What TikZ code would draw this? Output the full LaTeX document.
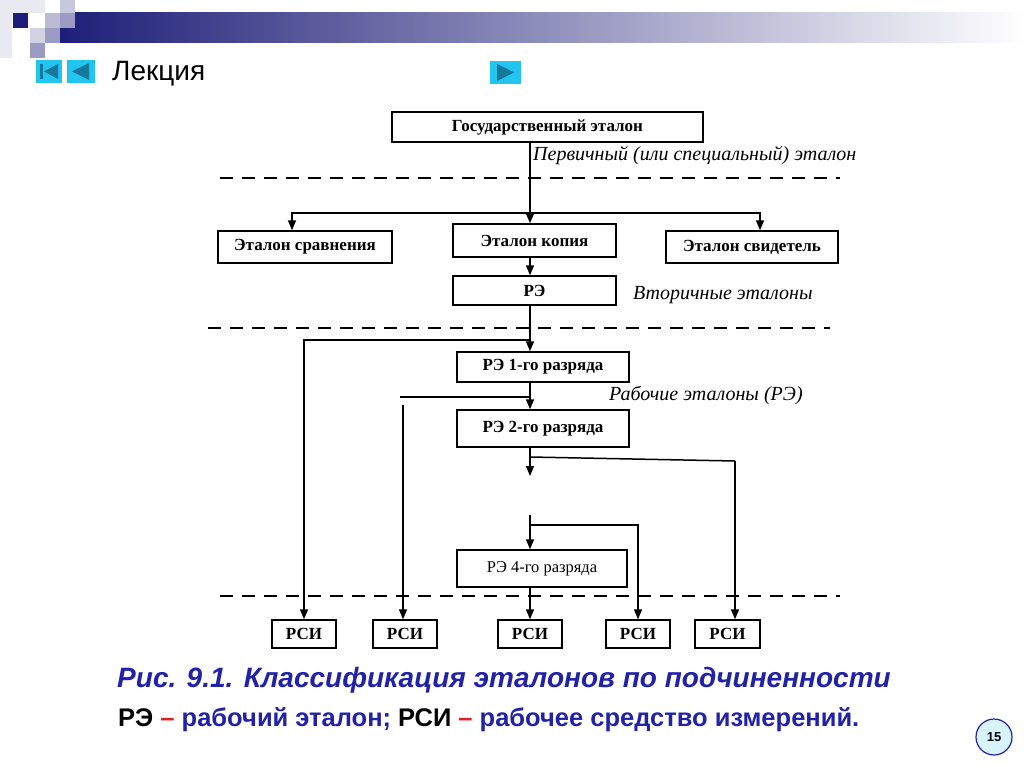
\documentclass[tikz,border=0pt]{standalone}
\usepackage{fontspec}
\setmainfont{Liberation Serif}
\setsansfont{Liberation Sans}
\usetikzlibrary{arrows.meta,positioning}
\definecolor{navy}{HTML}{1E1E78}
\definecolor{capblue}{HTML}{2222A8}
\definecolor{btncyan}{HTML}{22C4F0}
\definecolor{btndark}{HTML}{16789A}
\definecolor{capred}{HTML}{E02020}

\begin{document}
\begin{tikzpicture}[x=1pt,y=-1pt,
   box/.style={draw,line width=1.4pt,inner sep=0pt,font=\bfseries\fontsize{17}{17}\selectfont},
   rsi/.style={box,minimum height=28pt},
   lbl/.style={anchor=base west,inner sep=0pt,font=\itshape\fontsize{20}{20}\selectfont},
   arr/.style={line width=1.5pt,-{Triangle[length=10pt,width=8pt]}},
   link/.style={line width=1.5pt},
   level/.style={line width=1.5pt,dash pattern=on 13pt off 9pt},
   btn/.style={fill=btncyan},
   tip/.style={fill=btndark}]

\useasboundingbox (0,0) rectangle (1024,767);
\fill[white] (0,0) rectangle (1024,767);

% header
\shade[left color=navy,right color=white] (60,13) rectangle (1024,43);
\fill[navy!10] (0,0) rectangle (45,13);
\fill[navy!10] (0,13) rectangle (12,58);
\fill[navy] (13,13) rectangle (28,28);
\fill[navy!30] (45,13) rectangle (60,28);
\fill[navy!25] (60,0) rectangle (75,13);
\fill[navy!45] (60,13) rectangle (75,28);
\fill[navy!20] (30,28) rectangle (45,43);
\fill[navy!45] (45,28) rectangle (60,43);
\fill[navy!45] (30,43) rectangle (45,58);

\fill[btn] (36,60) rectangle (62,83);
\fill[tip] (40,64) rectangle (43,79);
\fill[tip] (44,71.5) -- (58,64) -- (58,79) -- cycle;
\fill[btn] (67,60) rectangle (95,83);
\fill[tip] (72,71.5) -- (89,63) -- (89,80) -- cycle;
\fill[btn] (490,61) rectangle (521,84);
\fill[tip] (497,64) -- (497,81) -- (514,72.5) -- cycle;
\node[anchor=base west,inner sep=0pt,font=\sffamily\fontsize{28}{28}\selectfont] (lect) at (112,81) {Лекция};

% boxes
\node[box,minimum width=311pt,minimum height=30pt] (gos) at (547.5,127) {Государственный эталон};
\node[box,minimum width=174pt,minimum height=32pt] (sravn) at (305,247) {Эталон сравнения};
\node[box,minimum width=163pt,minimum height=33pt] (kop) at (534.5,240.5) {Эталон копия};
\node[box,minimum width=172pt,minimum height=32pt] (svid) at (752,247) {Эталон свидетель};
\node[box,minimum width=163pt,minimum height=29pt] (re) at (534.5,290.5) {РЭ};
\node[box,minimum width=172pt,minimum height=30pt] (re1) at (543,367) {РЭ 1-го разряда};
\node[box,minimum width=172pt,minimum height=37pt] (re2) at (543,428.5) {РЭ 2-го разряда};
\node[box,minimum width=170pt,minimum height=37pt,font=\fontsize{16.5}{16.5}\selectfont] (re4) at (542,568.5) {РЭ 4-го разряда};

\node[rsi,minimum width=64pt] (rsi1) at (304,634) {РСИ};
\node[rsi,minimum width=64pt] (rsi2) at (405,634) {РСИ};
\node[rsi,minimum width=64pt] (rsi3) at (530,634) {РСИ};
\node[rsi,minimum width=64pt] (rsi4) at (638,634) {РСИ};
\node[rsi,minimum width=65pt] (rsi5) at (727.5,634) {РСИ};

\node[lbl] (perv) at (533,161) {Первичный (или специальный) эталон};
\node[lbl] (vtor) at (633,299) {Вторичные эталоны};
\node[lbl] (rab) at (609,400) {Рабочие эталоны (РЭ)};

% levels
\draw[level] (220,178) -- (840,178);
\draw[level] (208,328) -- (830,328);
\draw[level] (220,596) -- (840,596);

% links
\coordinate (sp) at (530,0);
\coordinate (fork) at (530,213);
\draw[arr] (gos.south -| sp) -- (kop.north -| sp);
\draw[arr] (fork) -| ([xshift=-13pt]sravn.north);
\draw[arr] (fork) -| ([xshift=8pt]svid.north);
\draw[arr] (kop.south -| sp) -- (re.north -| sp);
\draw[arr] (re.south -| sp) -- (re1.north -| sp);
\coordinate (b1) at (530,340);
\draw[arr] (b1) -| (rsi1.north);
\draw[arr] (re1.south -| sp) -- (re2.north -| sp);
\coordinate (b2) at (530,397);
\coordinate (b2e) at (400,397);
\coordinate (b2d) at (403,405);
\draw[link] (b2) -- (b2e);
\draw[arr] (b2d) -- (b2d |- rsi2.north);
\coordinate (d1) at (530,476);
\draw[arr] (re2.south -| sp) -- (d1);
\coordinate (b3) at (530,457);
\coordinate (b3r) at (735,461);
\draw[link] (b3) -- (b3r);
\draw[arr] (b3r) -- (b3r |- rsi5.north);
\coordinate (s4) at (530,515);
\coordinate (b4) at (530,525);
\draw[arr] (s4) -- (re4.north -| sp);
\draw[arr] (b4) -| (rsi4.north);
\draw[arr] (re4.south -| sp) -- (rsi3.north);

% caption
\node[anchor=base,inner sep=0pt,text=capblue,font=\sffamily\bfseries\itshape\fontsize{28}{28}\selectfont] (cap) at (504,687) {Рис. 9.1. Классификация эталонов по подчиненности};
\node[anchor=base west,inner sep=0pt,font=\sffamily\bfseries\fontsize{25.5}{25.5}\selectfont] (note) at (118,726) {РЭ \textcolor{capred}{–} \textcolor{capblue}{рабочий эталон;} РСИ \textcolor{capred}{–} \textcolor{capblue}{рабочее средство измерений.}};

\node[circle,draw=capblue,line width=1.2pt,fill=cyan!15,minimum size=36pt,inner sep=0pt,font=\sffamily\bfseries\fontsize{13}{13}\selectfont] (page) at (994,737) {15};

\end{tikzpicture}
\end{document}
